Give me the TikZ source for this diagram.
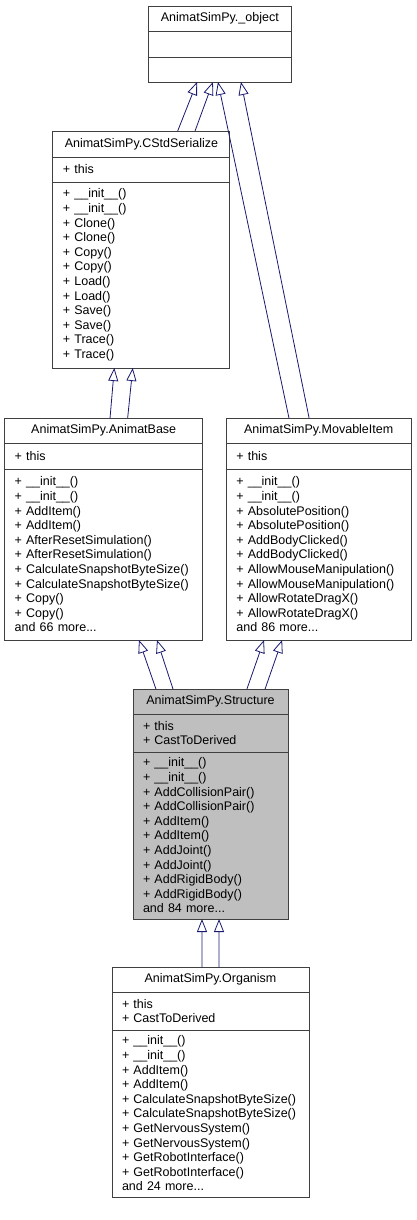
\documentclass[tikz,border=0pt]{standalone}
\usepackage{fontspec}
\setmainfont{Liberation Sans}
\usetikzlibrary{positioning,calc,arrows.meta}
\definecolor{edgenavy}{RGB}{25,25,112}
\definecolor{boxline}{RGB}{64,64,64}
\definecolor{curgray}{RGB}{191,191,191}
\newcommand{\dxfont}{\fontsize{12.5}{14.6}\selectfont}

\begin{document}
\begin{tikzpicture}[
    x=1pt, y=-1pt,
    classname/.style={
        rectangle,
        draw=boxline,
        line width=0.9pt,
        outer sep=0pt,
        inner sep=0pt,
        align=center,
        font=\dxfont
    },
    members/.style={
        rectangle,
        draw=boxline,
        line width=0.9pt,
        outer sep=0pt,
        inner xsep=10pt,
        inner ysep=0pt,
        align=left,
        font=\dxfont
    },
    inherit/.style={
        draw=edgenavy,
        line width=0.8pt,
        -{Triangle[length=13pt, width=10pt, fill=white]}
    }
]
    \useasboundingbox (0,0) rectangle (416,1220);

    % _object
    \node[classname, fill=white, minimum width=143, minimum height=25] (objT) at (219.8,18.5) {AnimatSimPy.\_object};
    \node[members, fill=white, text width=123, minimum height=26, below=0pt of objT] (objA) {};
    \node[members, fill=white, text width=123, minimum height=25, below=0pt of objA] (objM) {};

    % CStdSerialize
    \node[classname, fill=white, minimum width=177, minimum height=26] (serT) at (141.4,144) {AnimatSimPy.CStdSerialize};
    \node[members, fill=white, text width=157, minimum height=25, below=0pt of serT] (serA) {+ this};
    \node[members, fill=white, text width=157, minimum height=186, below=0pt of serA] (serM) {%
        + \_\_init\_\_()\\+ \_\_init\_\_()\\+ Clone()\\+ Clone()\\+ Copy()\\+ Copy()\\%
        + Load()\\+ Load()\\+ Save()\\+ Save()\\+ Trace()\\+ Trace()};

    % AnimatBase
    \node[classname, fill=white, minimum width=198, minimum height=25] (baseT) at (103.7,430.5) {AnimatSimPy.AnimatBase};
    \node[members, fill=white, text width=178, minimum height=26, below=0pt of baseT] (baseA) {+ this};
    \node[members, fill=white, text width=178, minimum height=171, below=0pt of baseA] (baseM) {%
        + \_\_init\_\_()\\+ \_\_init\_\_()\\+ AddItem()\\+ AddItem()\\%
        + AfterResetSimulation()\\+ AfterResetSimulation()\\%
        + CalculateSnapshotByteSize()\\+ CalculateSnapshotByteSize()\\%
        + Copy()\\+ Copy()\\and 66 more...};

    % MovableItem
    \node[classname, fill=white, minimum width=184.7, minimum height=25] (movT) at (318.7,430.5) {AnimatSimPy.MovableItem};
    \node[members, fill=white, text width=164.7, minimum height=26, below=0pt of movT] (movA) {+ this};
    \node[members, fill=white, text width=164.7, minimum height=171, below=0pt of movA] (movM) {%
        + \_\_init\_\_()\\+ \_\_init\_\_()\\+ AbsolutePosition()\\+ AbsolutePosition()\\%
        + AddBodyClicked()\\+ AddBodyClicked()\\%
        + AllowMouseManipulation()\\+ AllowMouseManipulation()\\%
        + AllowRotateDragX()\\+ AllowRotateDragX()\\and 86 more...};

    % Structure (current class)
    \node[classname, fill=curgray, minimum width=155, minimum height=25] (strT) at (210.5,701.5) {AnimatSimPy.Structure};
    \node[members, fill=curgray, text width=135, minimum height=38, below=0pt of strT] (strA) {+ this\\+ CastToDerived};
    \node[members, fill=curgray, text width=135, minimum height=167, below=0pt of strA] (strM) {%
        + \_\_init\_\_()\\+ \_\_init\_\_()\\+ AddCollisionPair()\\+ AddCollisionPair()\\%
        + AddItem()\\+ AddItem()\\+ AddJoint()\\+ AddJoint()\\%
        + AddRigidBody()\\+ AddRigidBody()\\and 84 more...};

    % Organism
    \node[classname, fill=white, minimum width=197, minimum height=25] (orgT) at (210.5,979.5) {AnimatSimPy.Organism};
    \node[members, fill=white, text width=177, minimum height=38, below=0pt of orgT] (orgA) {+ this\\+ CastToDerived};
    \node[members, fill=white, text width=177, minimum height=167, below=0pt of orgA] (orgM) {%
        + \_\_init\_\_()\\+ \_\_init\_\_()\\+ AddItem()\\+ AddItem()\\%
        + CalculateSnapshotByteSize()\\+ CalculateSnapshotByteSize()\\%
        + GetNervousSystem()\\+ GetNervousSystem()\\%
        + GetRobotInterface()\\+ GetRobotInterface()\\and 24 more...};

    % Inheritance edges
    \draw[inherit] ($(serT.north west)!0.705!(serT.north east)$) -- ($(objM.south west)!0.341!(objM.south east)$);
    \draw[inherit] ($(serT.north west)!0.803!(serT.north east)$) -- ($(objM.south west)!0.452!(objM.south east)$);
    \draw[inherit] ($(movT.north west)!0.339!(movT.north east)$) -- ($(objM.south west)!0.487!(objM.south east)$);
    \draw[inherit] ($(movT.north west)!0.448!(movT.north east)$) -- ($(objM.south west)!0.648!(objM.south east)$);

    \draw[inherit] ($(baseT.north west)!0.532!(baseT.north east)$) -- ($(serM.south west)!0.347!(serM.south east)$);
    \draw[inherit] ($(baseT.north west)!0.621!(baseT.north east)$) -- ($(serM.south west)!0.451!(serM.south east)$);

    \draw[inherit] ($(strT.north west)!0.148!(strT.north east)$) -- ($(baseM.south west)!0.678!(baseM.south east)$);
    \draw[inherit] ($(strT.north west)!0.258!(strT.north east)$) -- ($(baseM.south west)!0.769!(baseM.south east)$);
    \draw[inherit] ($(strT.north west)!0.735!(strT.north east)$) -- ($(movM.south west)!0.204!(movM.south east)$);
    \draw[inherit] ($(strT.north west)!0.852!(strT.north east)$) -- ($(movM.south west)!0.302!(movM.south east)$);

    \draw[inherit] ($(orgT.north west)!0.457!(orgT.north east)$) -- ($(strM.south west)!0.445!(strM.south east)$);
    \draw[inherit] ($(orgT.north west)!0.543!(orgT.north east)$) -- ($(strM.south west)!0.555!(strM.south east)$);
\end{tikzpicture}
\end{document}
